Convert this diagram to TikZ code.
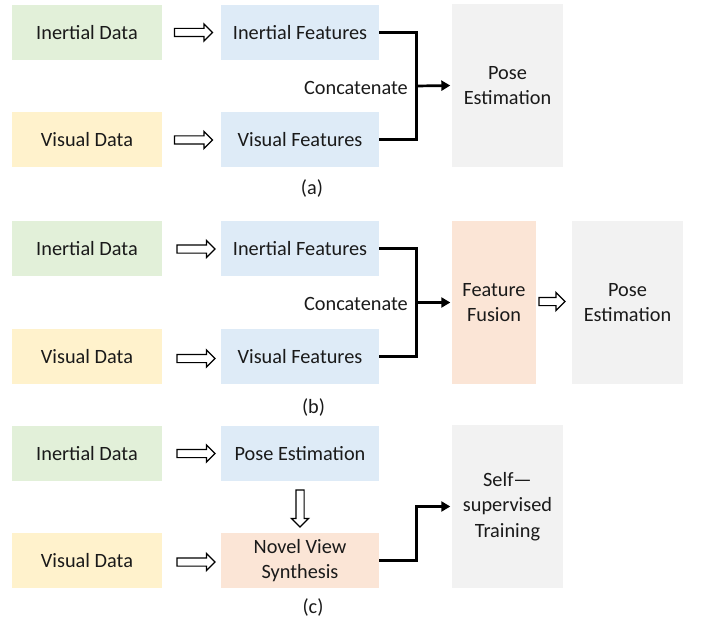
\documentclass[tikz,border=0pt]{standalone}
\usepackage{fontspec}
\setmainfont{Carlito}
\usetikzlibrary{shapes.arrows,arrows.meta}
\definecolor{cgreen}{HTML}{E2F0D9}
\definecolor{cyellow}{HTML}{FFF2CC}
\definecolor{cblue}{HTML}{DEEBF7}
\definecolor{corange}{HTML}{FBE5D6}
\definecolor{cgray}{HTML}{F2F2F2}
\definecolor{ctext}{HTML}{1A1A1A}
\tikzset{
  txt/.style={font=\fontsize{20.3bp}{25.5bp}\selectfont, text=ctext},
  box/.style={txt, inner sep=0pt, align=center},
  databox/.style={box, minimum width=150bp, minimum height=55bp},
  featbox/.style={box, minimum width=158bp, minimum height=55bp},
  tallbox/.style={box, minimum width=111bp, minimum height=163bp},
  hollow/.style={single arrow, draw=black, fill=white, line width=1.2bp,
    inner xsep=0pt, inner ysep=3.5bp, outer sep=0pt, text height=0pt, text depth=0pt,
    minimum width=16bp, single arrow head extend=4.5bp,
    minimum height=38bp},
  conn/.style={line width=2.7bp, line join=miter},
  connarrow/.style={conn, -{Triangle[length=9bp,width=10bp]}, shorten >=1.5bp},
}
\begin{document}
\begin{tikzpicture}[x=1bp,y=-1bp]
\useasboundingbox (0,0) rectangle (701,618);

% ---------- (a)
\node[databox, fill=cgreen] (ia1) at (87,32.5) {Inertial Data};
\node[featbox, fill=cblue] (if1) at (300,32.5) {Inertial Features};
\node[databox, fill=cyellow] (va1) at (87,139.5) {Visual Data};
\node[featbox, fill=cblue] (vf1) at (300,139.5) {Visual Features};
\node[tallbox, fill=cgray] (pe1) at (507.5,85.5) {Pose\\Estimation};
\node[hollow] (ha1) at (191.5,32.5) {};
\node[hollow] (ha2) at (191.5,140) {};
\node[txt, anchor=base east, inner sep=0pt] (cc1) at (408,94.5) {Concatenate};
\node[txt, anchor=base, inner sep=0pt] (la) at (312,195) {(a)};
\draw[conn] (if1.east) -- ++(37,0) |- (vf1.east);
\coordinate (j1) at (416,86);
\draw[connarrow] (j1) -- (pe1.west);

% ---------- (b)
\node[databox, fill=cgreen] (ia2) at (87,248.5) {Inertial Data};
\node[featbox, fill=cblue] (if2) at (300,248.5) {Inertial Features};
\node[databox, fill=cyellow] (va2) at (87,356.5) {Visual Data};
\node[featbox, fill=cblue] (vf2) at (300,356.5) {Visual Features};
\node[box, fill=corange, minimum width=84bp, minimum height=163bp] (ff) at (494,302.5) {Feature\\Fusion};
\node[tallbox, fill=cgray] (pe2) at (627.5,302.5) {Pose\\Estimation};
\node[hollow] (hb1) at (194,249) {};
\node[hollow] (hb2) at (194,358.5) {};
\node[hollow, minimum height=26bp, minimum width=17bp, single arrow head extend=5bp] (hb3) at (550,301.5) {};
\node[txt, anchor=base east, inner sep=0pt] (cc2) at (408,310.5) {Concatenate};
\node[txt, anchor=base, inner sep=0pt] (lb) at (313.5,413) {(b)};
\draw[conn] (if2.east) -- ++(37,0) |- (vf2.east);
\coordinate (j2) at (416,302.5);
\draw[connarrow] (j2) -- (ff.west);

% ---------- (c)
\node[databox, fill=cgreen] (ia3) at (87,453.5) {Inertial Data};
\node[featbox, fill=cblue] (pe3) at (300,453.5) {Pose Estimation};
\node[databox, fill=cyellow] (va3) at (87,560.5) {Visual Data};
\node[featbox, fill=corange] (nv) at (300,560.5) {Novel View\\Synthesis};
\node[tallbox, fill=cgray] (st) at (507.5,506.5) {Self—\\supervised\\Training};
\node[hollow] (hc1) at (194,453.5) {};
\node[hollow] (hc2) at (194,562) {};
\node[hollow, inner sep=3.5bp, minimum height=37bp, shape border rotate=270] (hc3) at (300,506.5) {};
\node[txt, anchor=base, inner sep=0pt] (lc) at (313,613) {(c)};
\draw[connarrow] (nv.east) -- ++(37,0) |- (st.west);
\end{tikzpicture}
\end{document}
